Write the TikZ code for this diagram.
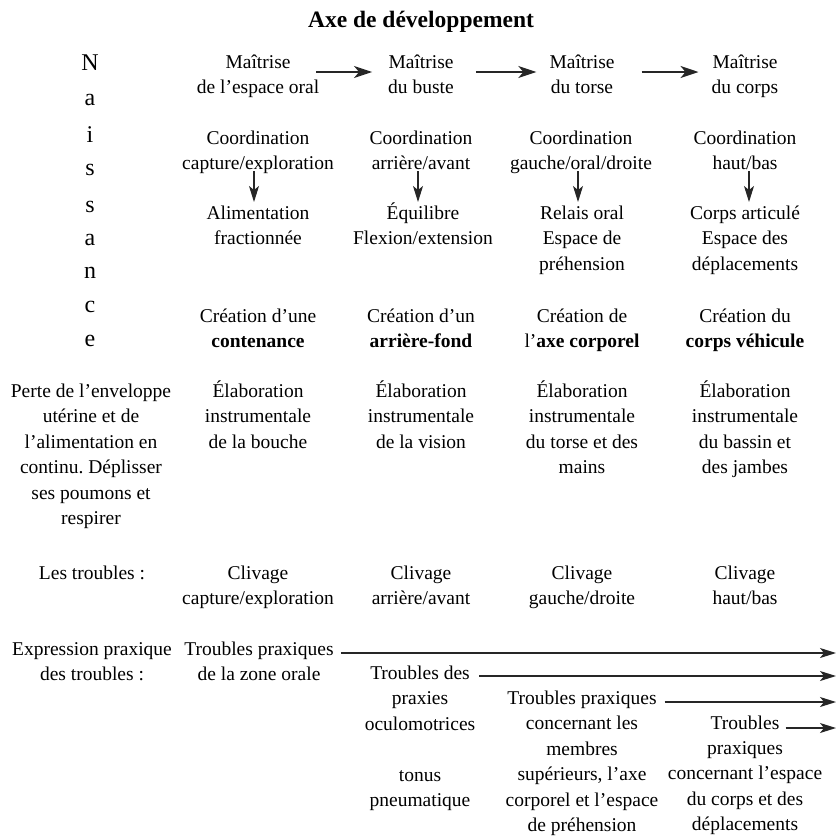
\documentclass[tikz,border=0pt]{standalone}
\usepackage{fontspec}
\setmainfont{Liberation Serif}
\usetikzlibrary{arrows.meta}
\frenchspacing
\tikzset{
  txt/.style={font=\fontsize{19.5}{25.5}\selectfont, align=center, inner sep=0pt, anchor=north},
  bigletter/.style={font=\fontsize{24}{28}\selectfont, inner sep=0pt, anchor=base},
  titlestyle/.style={font=\fontsize{23.5}{28}\selectfont\bfseries, inner sep=0pt, anchor=base},
  toparr/.style={draw=black!85, line width=1.6pt, -{Stealth[length=18pt,width=12pt,inset=5pt]}},
  downarr/.style={draw=black!85, line width=1.1pt, -{Stealth[length=16pt,width=10pt,inset=4pt]}},
  longarr/.style={draw=black!85, line width=1.3pt, -{Stealth[length=16pt,width=10pt,inset=4pt]}}
}
\begin{document}
\begin{tikzpicture}[x=1pt,y=-1pt]
\useasboundingbox (0,0) rectangle (837,836);
% title
\node[titlestyle] (title) at (421,27) {Axe de développement};
% Naissance
\node[bigletter] (n1) at (90,70) {N};
\node[bigletter] (n2) at (90,105.5) {a};
\node[bigletter] (n3) at (90,142) {i};
\node[bigletter] (n4) at (90,175.5) {s};
\node[bigletter] (n5) at (90,212.5) {s};
\node[bigletter] (n6) at (90,245.5) {a};
\node[bigletter] (n7) at (90,278.5) {n};
\node[bigletter] (n8) at (90,312.5) {c};
\node[bigletter] (n9) at (90,346.5) {e};
% row 1
\node[txt] (m1) at (258,50) {\strut Maîtrise\\de l'espace oral};
\node[txt] (m2) at (421,50) {\strut Maîtrise\\du buste};
\node[txt] (m3) at (582,50) {\strut Maîtrise\\du torse};
\node[txt] (m4) at (745,50) {\strut Maîtrise\\du corps};
\draw[toparr] ([xshift=-3pt,yshift=-22pt]m1.north east) -- ([xshift=-16pt,yshift=-22pt]m2.north west);
\draw[toparr] ([xshift=22pt,yshift=-22pt]m2.north east) -- ([xshift=-13pt,yshift=-22pt]m3.north west);
\draw[toparr] ([xshift=27pt,yshift=-22pt]m3.north east) -- ([xshift=-13pt,yshift=-22pt]m4.north west);
% row 2
\node[txt] (c1) at (258,126) {\strut Coordination\\capture/exploration};
\node[txt] (c2) at (421,126) {\strut Coordination\\arrière/avant};
\node[txt] (c3) at (581,126) {\strut Coordination\\gauche/oral/droite};
\node[txt] (c4) at (745,126) {\strut Coordination\\haut/bas};
% row 3
\node[txt] (d1) at (258,201) {\strut Alimentation\\fractionnée};
\node[txt] (d2) at (423,201) {\strut Équilibre\\Flexion/extension};
\node[txt] (d3) at (582,201) {\strut Relais oral\\Espace de\\préhension};
\node[txt] (d4) at (745,201) {\strut Corps articulé\\Espace des\\déplacements};
\draw[downarr] ([xshift=-4pt,yshift=-45pt]c1.north) -- ([xshift=-4pt,yshift=-1pt]d1.north);
\draw[downarr] ([xshift=-3pt,yshift=-45pt]c2.north) -- ([xshift=-5pt,yshift=-1pt]d2.north);
\draw[downarr] ([xshift=-3pt,yshift=-45pt]c3.north) -- ([xshift=-4pt,yshift=-1pt]d3.north);
\draw[downarr] ([xshift=4pt,yshift=-45pt]c4.north) -- ([xshift=4pt,yshift=-1pt]d4.north);
% row 4
\node[txt] (k1) at (258,304) {\strut Création d'une\\\textbf{contenance}};
\node[txt] (k2) at (421,304) {\strut Création d'un\\\textbf{arrière-fond}};
\node[txt] (k3) at (582,304) {\strut Création de\\l'\textbf{axe corporel}};
\node[txt] (k4) at (745,304) {\strut Création du\\\textbf{corps véhicule}};
% row 5
\node[txt] (p0) at (91,379) {\strut Perte de l'enveloppe\\utérine et de\\l'alimentation en\\continu. Déplisser\\ses poumons et\\respirer};
\node[txt] (e1) at (258,379) {\strut Élaboration\\instrumentale\\de la bouche};
\node[txt] (e2) at (421,379) {\strut Élaboration\\instrumentale\\de la vision};
\node[txt] (e3) at (582,379) {\strut Élaboration\\instrumentale\\du torse et des\\mains};
\node[txt] (e4) at (745,379) {\strut Élaboration\\instrumentale\\du bassin et\\des jambes};
% row 6
\node[txt] (l0) at (92,561) {\strut Les troubles :};
\node[txt] (v1) at (258,561) {\strut Clivage\\capture/exploration};
\node[txt] (v2) at (421,561) {\strut Clivage\\arrière/avant};
\node[txt] (v3) at (582,561) {\strut Clivage\\gauche/droite};
\node[txt] (v4) at (745,561) {\strut Clivage\\haut/bas};
% row 7
\node[txt] (x0) at (92,637) {\strut Expression praxique\\des troubles :};
\node[txt] (t1) at (259,637) {\strut Troubles praxiques\\de la zone orale};
\node[txt] (t2) at (420,661) {\strut Troubles des\\praxies\\oculomotrices\\[25.5pt]tonus\\pneumatique};
\node[txt] (t3) at (582,686) {\strut Troubles praxiques\\concernant les\\membres\\supérieurs, l'axe\\corporel et l'espace\\de préhension};
\node[txt] (t4a) at (745,711) {\strut Troubles};
\node[txt] (t4) at (745,736) {\strut praxiques\\concernant l'espace\\du corps et des\\déplacements};
\coordinate (rend) at (836,0);
\path ([xshift=7pt,yshift=-16pt]t1.north east) coordinate (s1);
\path ([xshift=4pt,yshift=-15pt]t2.north east) coordinate (s2);
\path ([xshift=6pt,yshift=-16pt]t3.north east) coordinate (s3);
\path ([xshift=6pt,yshift=-17pt]t4a.north east) coordinate (s4);
\draw[longarr] (s1) -- (s1 -| rend);
\draw[longarr] (s2) -- (s2 -| rend);
\draw[longarr] (s3) -- (s3 -| rend);
\draw[longarr] (s4) -- (s4 -| rend);
\end{tikzpicture}
\end{document}
